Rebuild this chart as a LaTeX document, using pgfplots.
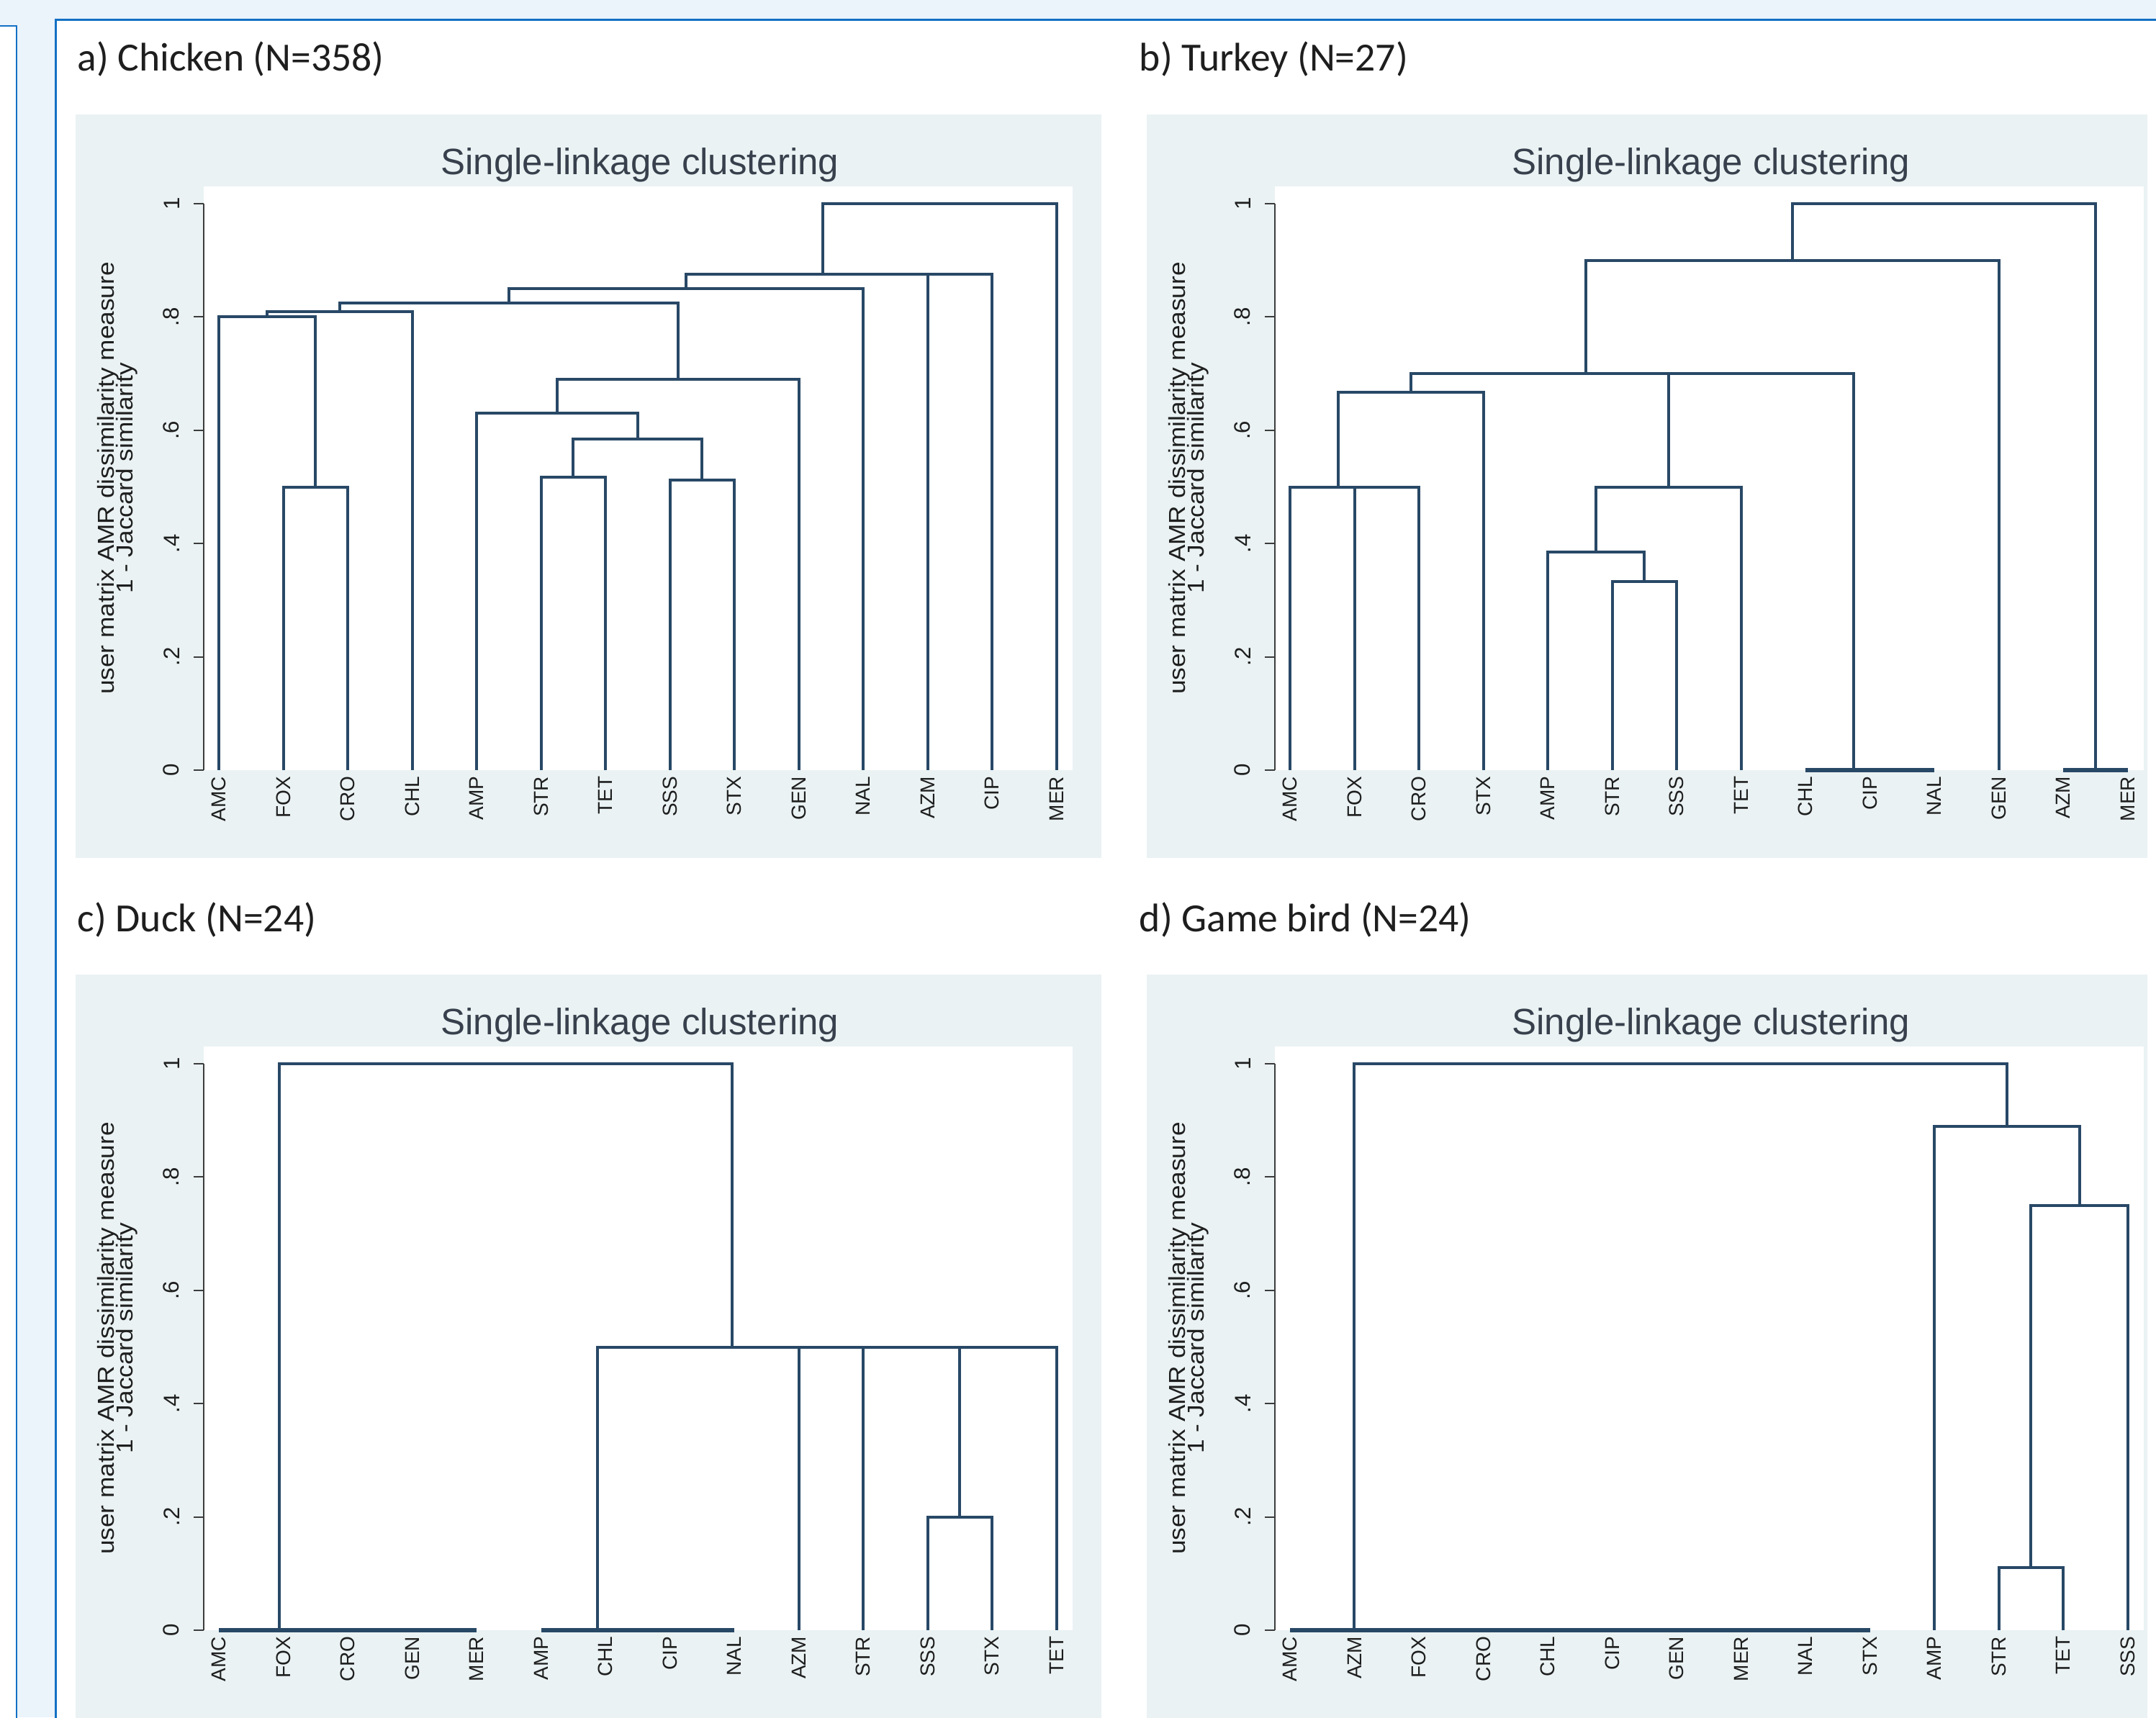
\documentclass[border=0pt]{standalone}
\usepackage{fontspec}
\usepackage{pgfplots}
\pgfplotsset{compat=1.18}
\newfontfamily\arialf{Liberation Sans}
\newfontfamily\arialw{Liberation Sans}[FakeStretch=1.1]
\newfontfamily\calib{Carlito}
\newcommand\ylfont{\arialw\fontsize{8}{6.5}\selectfont\setlength{\lineskiplimit}{-20pt}\setlength{\lineskip}{0pt}}
\definecolor{outerbg}{RGB}{235,243,251}
\definecolor{boxblue}{RGB}{18,112,196}
\definecolor{panelbg}{RGB}{234,242,243}
\definecolor{dendro}{RGB}{40,72,102}
\definecolor{titlec}{RGB}{55,64,76}
\definecolor{axisc}{RGB}{60,60,60}
\definecolor{textc}{RGB}{30,30,30}
\tikzset{dl/.style={draw=dendro, line width=1pt, line join=miter},
         dz/.style={draw=dendro, line width=1.4pt}}
\pgfplotsset{dendro/.style={
  scale only axis, width=301.75pt, height=202.75pt,
  xmin=0.765, xmax=14.25, ymin=0, ymax=1.0305,
  clip=false,
  axis background/.style={fill=white},
  axis line style={draw=none},
  xtick={1,...,14}, xtick pos=left, ytick pos=left,
  ytick={0,0.2,0.4,0.6,0.8,1}, yticklabels={0,.2,.4,.6,.8,1},
  tick align=outside, major tick length=3.5pt,
  ytick style={draw=axisc, line width=0.5pt},
  xtick style={draw=none},
  xticklabel style={rotate=90, anchor=east, font=\arialf\fontsize{7}{8}\selectfont, text=textc, inner sep=0pt, xshift=1.5pt},
  yticklabel style={rotate=90, anchor=south, font=\arialf\fontsize{7.8}{8}\selectfont, text=textc, inner sep=0pt, yshift=4.75pt},
  ylabel={user matrix AMR dissimilarity measure\\1 - Jaccard similarity},
  ylabel style={align=center, font=\ylfont, text=textc},
  ylabel shift=5.5pt,
}}
\begin{document}
\begin{tikzpicture}
\useasboundingbox (0,0) rectangle (748.75pt,-596.5pt);
\clip (0,0) rectangle (748.75pt,-596.5pt);
\begin{scope}[x=0.25pt,y=-0.25pt]
\fill[outerbg] (0,0) rectangle (2995,2386);
\filldraw[fill=white, draw=boxblue, line width=0.7pt] (-20,36) rectangle (23,2450);
\filldraw[fill=white, draw=boxblue, line width=0.75pt] (77,28) rectangle (3050,2450);
\fill[panelbg] (105,159) rectangle (1530,1192);
\fill[panelbg] (1593,159) rectangle (2983,1192);
\fill[panelbg] (105,1354) rectangle (1530,2400);
\fill[panelbg] (1593,1354) rectangle (2983,2400);
\tikzset{hd/.style={anchor=base west, inner sep=0pt, text=textc, font=\calib\fontsize{13.9}{16}\selectfont},
         tt/.style={anchor=base, inner sep=0pt, text=titlec, font=\arialf\fontsize{12.75}{14}\selectfont}}
\node[hd] at (107,99) {a) Chicken (N=358)};
\node[hd] at (1582,99) {b) Turkey (N=27)};
\node[hd] at (107,1294) {c) Duck (N=24)};
\node[hd] at (1582,1294) {d) Game bird (N=24)};
\node[tt] at (889,242) {Single-linkage clustering};
\node[tt] at (2377,242) {Single-linkage clustering};
\node[tt] at (889,1437) {Single-linkage clustering};
\node[tt] at (2377,1437) {Single-linkage clustering};
\end{scope}

% a) Chicken
\begin{axis}[dendro, at={(70.75pt,-267.5pt)}, anchor=south west,
  xticklabels={AMC,FOX,CRO,CHL,AMP,STR,TET,SSS,STX,GEN,NAL,AZM,CIP,MER}]
\addplot[dl] coordinates {(2,0) (2,0.5) (3,0.5) (3,0)};
\addplot[dl] coordinates {(1,0) (1,0.8) (2.5,0.8) (2.5,0.5)};
\addplot[dl] coordinates {(1.75,0.8) (1.75,0.81) (4,0.81) (4,0)};
\addplot[dl] coordinates {(6,0) (6,0.517) (7,0.517) (7,0)};
\addplot[dl] coordinates {(8,0) (8,0.512) (9,0.512) (9,0)};
\addplot[dl] coordinates {(6.5,0.517) (6.5,0.585) (8.5,0.585) (8.5,0.512)};
\addplot[dl] coordinates {(5,0) (5,0.63) (7.5,0.63) (7.5,0.585)};
\addplot[dl] coordinates {(6.25,0.63) (6.25,0.69) (10,0.69) (10,0)};
\addplot[dl] coordinates {(2.875,0.81) (2.875,0.825) (8.125,0.825) (8.125,0.69)};
\addplot[dl] coordinates {(5.5,0.825) (5.5,0.85) (11,0.85) (11,0)};
\addplot[dl] coordinates {(12,0) (12,0.875) (13,0.875) (13,0)};
\addplot[dl] coordinates {(8.25,0.85) (8.25,0.875) (12.5,0.875) (12.5,0.875)};
\addplot[dl] coordinates {(10.375,0.875) (10.375,1) (14,1) (14,0)};
\draw[axisc, line width=0.5pt] (axis cs:0.765,0) -- (axis cs:0.765,1);
\end{axis}

% b) Turkey
\begin{axis}[dendro, at={(442.75pt,-267.5pt)}, anchor=south west,
  xticklabels={AMC,FOX,CRO,STX,AMP,STR,SSS,TET,CHL,CIP,NAL,GEN,AZM,MER}]
\addplot[dl] coordinates {(2,0) (2,0.5) (3,0.5) (3,0)};
\addplot[dl] coordinates {(1,0) (1,0.5) (2.5,0.5) (2.5,0.5)};
\addplot[dl] coordinates {(1.75,0.5) (1.75,0.667) (4,0.667) (4,0)};
\addplot[dl] coordinates {(6,0) (6,0.333) (7,0.333) (7,0)};
\addplot[dl] coordinates {(5,0) (5,0.385) (6.5,0.385) (6.5,0.333)};
\addplot[dl] coordinates {(5.75,0.385) (5.75,0.5) (8,0.5) (8,0)};
\addplot[dz] coordinates {(10,0) (11,0)};
\addplot[dz] coordinates {(9,0) (10.5,0)};
\addplot[dl] coordinates {(6.875,0.5) (6.875,0.7) (9.75,0.7) (9.75,0)};
\addplot[dl] coordinates {(2.875,0.667) (2.875,0.7) (8.3125,0.7) (8.3125,0.7)};
\addplot[dl] coordinates {(5.59375,0.7) (5.59375,0.9) (12,0.9) (12,0)};
\addplot[dz] coordinates {(13,0) (14,0)};
\addplot[dl] coordinates {(8.796875,0.9) (8.796875,1) (13.5,1) (13.5,0)};
\draw[axisc, line width=0.5pt] (axis cs:0.765,0) -- (axis cs:0.765,1);
\end{axis}

% c) Duck
\begin{axis}[dendro, at={(70.75pt,-566.25pt)}, anchor=south west,
  xticklabels={AMC,FOX,CRO,GEN,MER,AMP,CHL,CIP,NAL,AZM,STR,SSS,STX,TET}]
\addplot[dz] coordinates {(4,0) (5,0)};
\addplot[dz] coordinates {(3,0) (4.5,0)};
\addplot[dz] coordinates {(2,0) (3.75,0)};
\addplot[dz] coordinates {(1,0) (2.875,0)};
\addplot[dz] coordinates {(8,0) (9,0)};
\addplot[dz] coordinates {(7,0) (8.5,0)};
\addplot[dz] coordinates {(6,0) (7.75,0)};
\addplot[dl] coordinates {(12,0) (12,0.2) (13,0.2) (13,0)};
\addplot[dl] coordinates {(12.5,0.2) (12.5,0.5) (14,0.5) (14,0)};
\addplot[dl] coordinates {(11,0) (11,0.5) (13.25,0.5)};
\addplot[dl] coordinates {(10,0) (10,0.5) (12.125,0.5)};
\addplot[dl] coordinates {(6.875,0) (6.875,0.5) (11.0625,0.5)};
\addplot[dl] coordinates {(1.9375,0) (1.9375,1) (8.96875,1) (8.96875,0.5)};
\draw[axisc, line width=0.5pt] (axis cs:0.765,0) -- (axis cs:0.765,1);
\end{axis}

% d) Game bird
\begin{axis}[dendro, at={(442.75pt,-566.25pt)}, anchor=south west,
  xticklabels={AMC,AZM,FOX,CRO,CHL,CIP,GEN,MER,NAL,STX,AMP,STR,TET,SSS}]
\addplot[dz] coordinates {(1,0) (10,0)};
\addplot[dl] coordinates {(12,0) (12,0.111) (13,0.111) (13,0)};
\addplot[dl] coordinates {(12.5,0.111) (12.5,0.75) (14,0.75) (14,0)};
\addplot[dl] coordinates {(11,0) (11,0.889) (13.25,0.889) (13.25,0.75)};
\addplot[dl] coordinates {(1.998,0) (1.998,1) (12.125,1) (12.125,0.889)};
\draw[axisc, line width=0.5pt] (axis cs:0.765,0) -- (axis cs:0.765,1);
\end{axis}
\end{tikzpicture}
\end{document}
